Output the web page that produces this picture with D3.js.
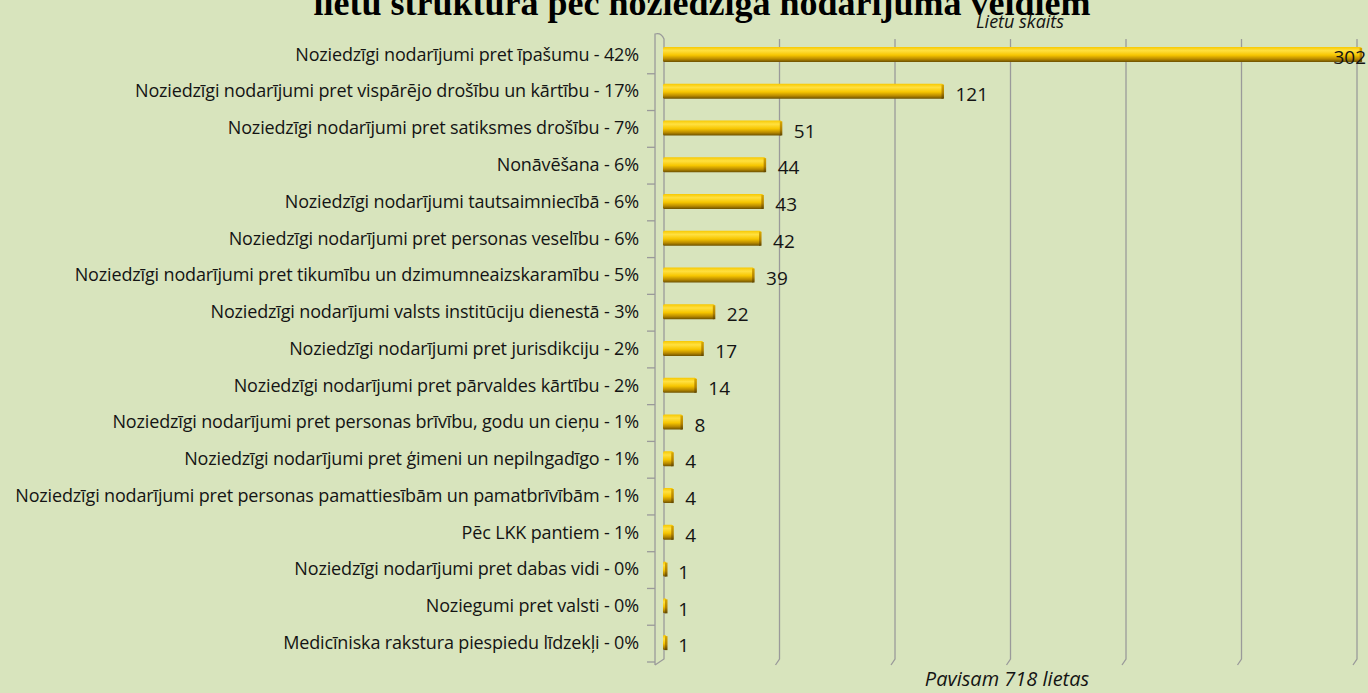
<!DOCTYPE html>
<html>
<head>
<meta charset="utf-8">
<script src="https://cdn.jsdelivr.net/npm/d3@7"></script>
<style>
  html, body { margin: 0; padding: 0; background: #d8e4bd; overflow: hidden; }
  .cat { font-family: "Open Sans", sans-serif; font-size: 18px; fill: #141414; letter-spacing: -0.15px; }
  .val { font-family: "Open Sans", sans-serif; font-size: 19px; fill: #141414; }
  .ax-title { font-family: "Open Sans", sans-serif; font-style: italic; font-size: 18px; fill: #141414; }
  .chart-title { font-family: "Liberation Serif", "Times New Roman", serif; font-weight: bold; font-size: 36px; fill: #000; }
</style>
</head>
<body>
<svg id="chart"></svg>
<script>
const categories = [
  "Noziedzīgi nodarījumi pret īpašumu - 42%",
  "Noziedzīgi nodarījumi pret vispārējo drošību un kārtību - 17%",
  "Noziedzīgi nodarījumi pret satiksmes drošību - 7%",
  "Nonāvēšana - 6%",
  "Noziedzīgi nodarījumi tautsaimniecībā - 6%",
  "Noziedzīgi nodarījumi pret personas veselību - 6%",
  "Noziedzīgi nodarījumi pret tikumību un dzimumneaizskaramību - 5%",
  "Noziedzīgi nodarījumi valsts institūciju dienestā - 3%",
  "Noziedzīgi nodarījumi pret jurisdikciju - 2%",
  "Noziedzīgi nodarījumi pret pārvaldes kārtību - 2%",
  "Noziedzīgi nodarījumi pret personas brīvību, godu un cieņu - 1%",
  "Noziedzīgi nodarījumi pret ģimeni un nepilngadīgo - 1%",
  "Noziedzīgi nodarījumi pret personas pamattiesībām un pamatbrīvībām - 1%",
  "Pēc LKK pantiem - 1%",
  "Noziedzīgi nodarījumi pret dabas vidi - 0%",
  "Noziegumi pret valsti - 0%",
  "Medicīniska rakstura piespiedu līdzekļi - 0%"
];
const caseCounts = [302, 121, 51, 44, 43, 42, 39, 22, 17, 14, 8, 4, 4, 4, 1, 1, 1];
const xTicks = [50, 100, 150, 200, 250, 300];
const titleText = "lietu struktūra pēc noziedzīga nodarījuma veidiem";
const xAxisTitle = "Lietu skaits";
const totalText = "Pavisam 718 lietas";

const width = 1368, height = 693;
const plot = { left: 664, right: 1357, top: 36, bottom: 661 };

const svg = d3.select('#chart')
  .attr('width', width)
  .attr('height', height);

const x = d3.scaleLinear().domain([0, 300]).range([plot.left, plot.right]);
const y = d3.scaleBand().domain(categories).range([plot.top, plot.bottom]).padding(0);

// bar gradient (Excel 3D look)
const defs = svg.append('defs');
const grad = defs.append('linearGradient').attr('id', 'barGrad')
  .attr('x1', 0).attr('y1', 0).attr('x2', 0).attr('y2', 1);
grad.append('stop').attr('offset', '0%').attr('stop-color', '#f7c800');
grad.append('stop').attr('offset', '25%').attr('stop-color', '#ffe040');
grad.append('stop').attr('offset', '55%').attr('stop-color', '#f7c600');
grad.append('stop').attr('offset', '80%').attr('stop-color', '#bb8c00');
grad.append('stop').attr('offset', '100%').attr('stop-color', '#6e5200');
const capGrad = defs.append('linearGradient').attr('id', 'capGrad')
  .attr('x1', 0).attr('y1', 0).attr('x2', 0).attr('y2', 1);
capGrad.append('stop').attr('offset', '0%').attr('stop-color', '#d9a800');
capGrad.append('stop').attr('offset', '60%').attr('stop-color', '#b08000');
capGrad.append('stop').attr('offset', '100%').attr('stop-color', '#5e4500');

// gridlines with small 3D floor bend
svg.append('g').selectAll('path.grid')
  .data(xTicks)
  .join('path')
  .attr('class', 'grid')
  .attr('d', d => `M${x(d)},${plot.top + 3}V${plot.bottom - 2}L${x(d) - 4},${plot.bottom + 4}`)
  .attr('fill', 'none')
  .attr('stroke', '#9a9a9a')
  .attr('stroke-width', 1.3);

// left wall / axis
const wallX = plot.left - 9;
svg.append('path')
  .attr('d', `M${wallX},${plot.bottom + 4}V${plot.top - 2}Q${wallX + 6},${plot.top - 4} ${plot.left},${plot.top + 3}V${plot.bottom - 2}L${wallX},${plot.bottom + 4}`)
  .attr('fill', 'none')
  .attr('stroke', '#9a9a9a')
  .attr('stroke-width', 1.3);

const boundaries = categories.map(c => y(c)).concat([plot.bottom]).slice(1);
svg.append('g').selectAll('line.tick')
  .data(boundaries)
  .join('line')
  .attr('x1', wallX - 8).attr('x2', wallX)
  .attr('y1', d => d + 1).attr('y2', d => d + 1)
  .attr('stroke', '#9a9a9a')
  .attr('stroke-width', 1.3);

// bars
const barH = 15;
const rows = svg.append('g').selectAll('g.row')
  .data(categories.map((c, i) => ({ cat: c, v: caseCounts[i] })))
  .join('g')
  .attr('class', 'row');

rows.append('rect')
  .attr('x', plot.left - 1)
  .attr('y', d => y(d.cat) + y.bandwidth() / 2 - barH / 2)
  .attr('width', d => Math.max(3, x(d.v) - plot.left + 1))
  .attr('height', barH)
  .attr('rx', 1.5)
  .attr('fill', 'url(#barGrad)');

rows.append('rect')
  .attr('x', d => Math.max(plot.left + 1, x(d.v) - 2))
  .attr('y', d => y(d.cat) + y.bandwidth() / 2 - barH / 2 + 1)
  .attr('width', 2.5)
  .attr('height', barH - 1)
  .attr('fill', 'url(#capGrad)');

// category labels
rows.append('text')
  .attr('class', 'cat')
  .attr('x', 639)
  .attr('y', d => y(d.cat) + y.bandwidth() / 2)
  .attr('dy', '0.35em')
  .attr('text-anchor', 'end')
  .text(d => d.cat);

// value labels
rows.append('text')
  .attr('class', 'val')
  .attr('x', d => x(d.v) + 12)
  .attr('y', d => y(d.cat) + y.bandwidth() / 2 + 3)
  .attr('dy', '0.35em')
  .text(d => d.v)
  .each(function () {
    const t = d3.select(this);
    const w = this.getComputedTextLength();
    if (+t.attr('x') + w > width - 2) t.attr('x', width - 2 - w);
  });

// titles
svg.append('text')
  .attr('class', 'chart-title')
  .attr('x', 702)
  .attr('y', 15)
  .attr('text-anchor', 'middle')
  .text(titleText);

svg.append('text')
  .attr('class', 'ax-title')
  .attr('x', 1020)
  .attr('y', 28)
  .attr('text-anchor', 'middle')
  .text(xAxisTitle);

svg.append('text')
  .attr('class', 'ax-title')
  .attr('x', 1007)
  .attr('y', 686)
  .attr('text-anchor', 'middle')
  .style('font-size', '20px')
  .text(totalText);
</script>
</body>
</html>
